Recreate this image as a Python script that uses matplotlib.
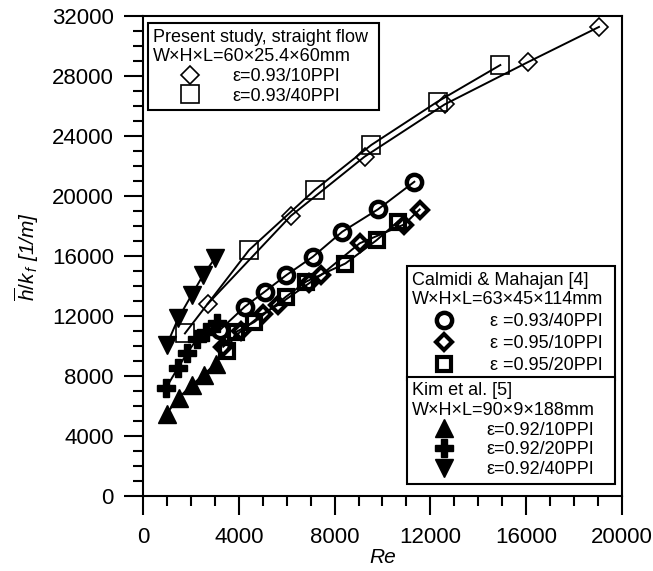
import matplotlib
matplotlib.use("Agg")
import matplotlib.pyplot as plt
from matplotlib.lines import Line2D
import numpy as np

plt.rcParams['font.family'] = ['Liberation Sans', 'DejaVu Sans']
plt.rcParams['mathtext.fontset'] = 'custom'
plt.rcParams['mathtext.it'] = 'Liberation Sans:italic'
plt.rcParams['mathtext.rm'] = 'Liberation Sans'

# ---- data ----
# Present study, straight flow
ps10_re = [2700, 6170, 9250, 12600, 16080, 19040]
ps10_h = [12800, 18670, 22620, 26110, 28930, 31270]
ps40_re = [1750, 4430, 7170, 9530, 12300, 14920]
ps40_h = [10840, 16400, 20400, 23400, 26290, 28730]

# Calmidi & Mahajan [4]
cm40_re = [3210, 4250, 5080, 5990, 7100, 8320, 9810, 11330]
cm40_h = [11070, 12620, 13620, 14730, 15960, 17620, 19110, 20950]
cm10_re = [3350, 4100, 5000, 5650, 6950, 7450, 9050, 10900, 11550]
cm10_h = [9950, 11000, 12150, 12750, 14200, 14750, 16850, 18100, 19100]
cm20_re = [3500, 3900, 4650, 5980, 6820, 8450, 9750, 10650]
cm20_h = [9700, 10950, 11600, 13300, 14300, 15500, 17050, 18300]

# Kim et al. [5]
k10_re = [990, 1490, 2030, 2530, 3040]
k10_h = [5500, 6560, 7370, 8100, 8820]
k20_re = [950, 1450, 1850, 2250, 2650, 3100]
k20_h = [7180, 8520, 9550, 10450, 10950, 11550]
k40_re = [990, 1470, 2030, 2510, 3000]
k40_h = [10070, 11840, 13400, 14730, 15840]

ps_title = "Present study, straight flow\nW\u00d7H\u00d7L=60\u00d725.4\u00d760mm"
ps_labels = ["\u03b5=0.93/10PPI", "\u03b5=0.93/40PPI"]
cm_title = "Calmidi & Mahajan [4]\nW\u00d7H\u00d7L=63\u00d745\u00d7114mm"
cm_labels = ["\u03b5 =0.93/40PPI", "\u03b5 =0.95/10PPI", "\u03b5 =0.95/20PPI"]
kim_title = "Kim et al. [5]\nW\u00d7H\u00d7L=90\u00d79\u00d7188mm"
kim_labels = ["\u03b5=0.92/10PPI", "\u03b5=0.92/20PPI", "\u03b5=0.92/40PPI"]

fig = plt.figure(figsize=(6.53, 5.71), dpi=100)
ax = fig.add_axes([0.219, 0.1313, 0.7335, 0.8407])

lw = 1.4
# present study
st_ps10 = dict(marker='D', ms=9.5, mfc='none', mec='black', mew=1.2, color='black', lw=lw)
st_ps40 = dict(marker='s', ms=12.5, mfc='none', mec='black', mew=1.2, color='black', lw=lw)
ax.plot(ps10_re, ps10_h, **st_ps10)
ax.plot(ps40_re, ps40_h, **st_ps40)

# Calmidi
st_cm40 = dict(marker='o', ms=11, mfc='none', mec='black', mew=3.2, color='black', lw=lw)
st_cm10 = dict(marker='D', ms=8, mfc='none', mec='black', mew=3.0, color='black', lw=lw)
st_cm20 = dict(marker='s', ms=9.5, mfc='none', mec='black', mew=3.0, color='black', lw=lw)
ax.plot(cm40_re, cm40_h, **st_cm40)
ax.plot(cm10_re, cm10_h, **st_cm10)
ax.plot(cm20_re, cm20_h, **st_cm20)

# Kim
st_k10 = dict(marker='^', ms=13, mfc='black', mec='black', color='black', lw=lw)
st_k20 = dict(marker='P', ms=13, mfc='black', mec='black', color='black', lw=lw)
st_k40 = dict(marker='v', ms=13, mfc='black', mec='black', color='black', lw=lw)
ax.plot(k10_re, k10_h, **st_k10)
ax.plot(k20_re, k20_h, **st_k20)
ax.plot(k40_re, k40_h, **st_k40)

ax.set_xlim(0, 20000)
ax.set_ylim(0, 32000)
ax.set_xticks(np.arange(0, 20001, 4000))
ax.set_yticks(np.arange(0, 32001, 4000))
ax.set_xticks(np.arange(0, 20001, 1000), minor=True)
ax.set_yticks(np.arange(0, 32001, 1000), minor=True)
ax.tick_params(which='major', direction='out', length=14, width=1.5, labelsize=16, pad=7)
ax.tick_params(which='minor', direction='out', length=7, width=1.5)
ax.tick_params(axis='x', which='major', pad=8)
for s in ax.spines.values():
    s.set_linewidth(1.5)

ax.set_xlabel("Re", fontsize=15, fontstyle='italic', labelpad=0)
ax.set_ylabel(r"$\overline{h}/k_{\,f}$ [1/m]", fontsize=15, fontstyle='italic', labelpad=8)

def handles(styles):
    out = []
    for st in styles:
        d = {k: v for k, v in st.items() if k not in ('lw',)}
        out.append(Line2D([], [], ls='none', **d))
    return out

common = dict(fontsize=13, title_fontsize=13, frameon=True, fancybox=False,
              framealpha=1, edgecolor='black', borderaxespad=0, mode='expand',
              loc='upper left', borderpad=0.3, numpoints=1)

leg1 = ax.legend(handles([st_ps10, st_ps40]), ps_labels, title=ps_title,
                 bbox_to_anchor=(0.0104, 0.798, 0.482, 0.187), labelspacing=0.15,
                 handlelength=4.0, handletextpad=0.4, alignment='left', **common)
leg1.get_frame().set_linewidth(1.5)
ax.add_artist(leg1)

leg2 = ax.legend(handles([st_cm40, st_cm10, st_cm20]), cm_labels, title=cm_title,
                 bbox_to_anchor=(0.551, 0.248, 0.434, 0.231), labelspacing=0.28,
                 handlelength=3.5, handletextpad=0.8, alignment='left', **common)
leg2.get_frame().set_linewidth(1.5)
ax.add_artist(leg2)

leg3 = ax.legend(handles([st_k10, st_k20, st_k40]), kim_labels, title=kim_title,
                 bbox_to_anchor=(0.551, 0.025, 0.434, 0.223), labelspacing=0.15,
                 handlelength=3.5, handletextpad=0.6, alignment='left', **common)
leg3.get_frame().set_linewidth(1.5)

fig.savefig("out.png", dpi=100)
